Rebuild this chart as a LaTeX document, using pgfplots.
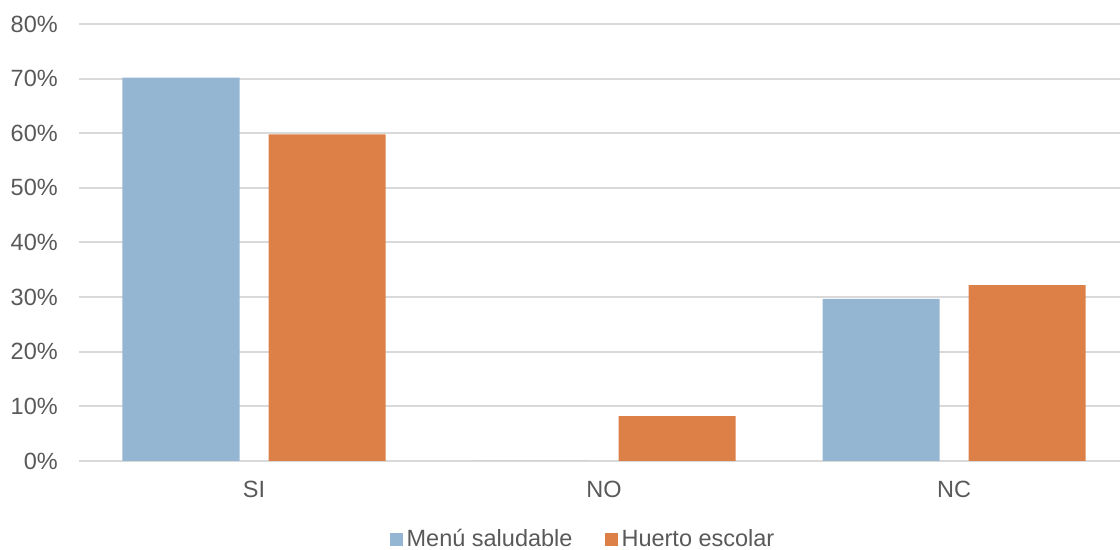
\documentclass[border=0pt]{standalone}
\usepackage{pgfplots}
\pgfplotsset{compat=1.18}
\usepackage{fontspec}
\setmainfont{Liberation Sans}
\definecolor{txt}{HTML}{595959}
\definecolor{gridc}{HTML}{D9D9D9}
\definecolor{cblue}{HTML}{95B6D3}
\definecolor{corange}{HTML}{DD8047}
\begin{document}
\fontsize{11.75}{14}\selectfont
\begin{tikzpicture}
\path[use as bounding box] (-39.5pt,-44.5pt) rectangle (520.5pt,230.5pt);
\begin{axis}[
    scale only axis,
    width=525pt,
    height=218.5pt,
    ybar=14.5pt,
    bar width=58.5pt,
    xmin=-0.5, xmax=2.5,
    ymin=0, ymax=80,
    xtick={0,1,2},
    xticklabels={SI,NO,NC},
    ytick={0,10,...,80},
    yticklabel={\pgfmathprintnumber{\tick}\%},
    xmajorgrids=false,
    ymajorgrids=true,
    grid style={draw=gridc, line width=1pt},
    axis line style={draw=none},
    major tick length=0pt,
    tick label style={text=txt, font=\fontsize{11.75}{14}\selectfont},
    /pgf/number format/assume math mode=true,
    xticklabel style={yshift=-6pt},
    yticklabel style={xshift=-6.5pt},
    legend style={
        at={(0.5,0)}, anchor=center, yshift=-39.5pt, xshift=-10pt,
        draw=none, fill=none,
        font=\fontsize{11.75}{14}\selectfont, text=txt,
        legend columns=2,
        /tikz/every even column/.append style={column sep=14pt}
    },
    legend image code/.code={\fill[#1] (0pt,-3.25pt) rectangle (6.5pt,3.25pt);},
]
\addplot[fill=cblue, draw=none] coordinates {(0,70.2) (1,0) (2,29.7)};
\addplot[fill=corange, draw=none] coordinates {(0,59.8) (1,8.2) (2,32.2)};
\legend{Menú saludable, Huerto escolar}
\end{axis}
\end{tikzpicture}
\end{document}
